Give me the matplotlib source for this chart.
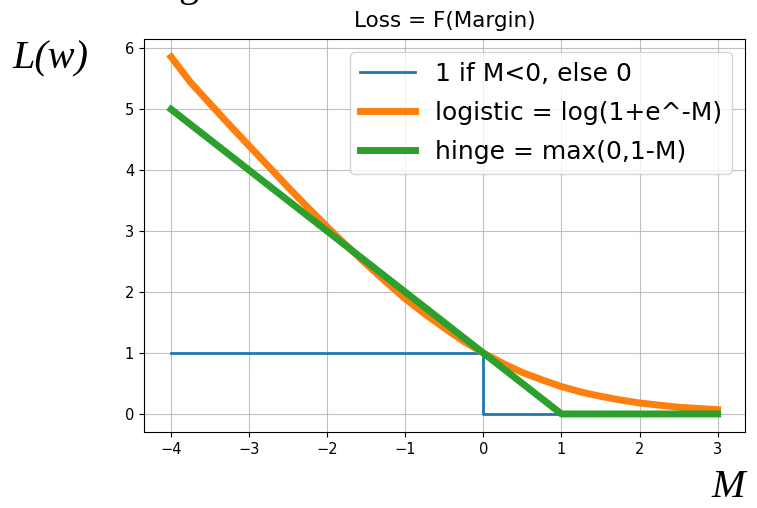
import matplotlib
matplotlib.use("Agg")
import matplotlib.pyplot as plt

# значения
M_step = [-4, 0, 0, 3]
loss_step = [1, 1, 0, 0]

M_log = [-4, -3.75, -3.5, -3.25, -3, -2.75, -2.5, -2.25, -2, -1.75, -1.5,
         -1.25, -1, -0.75, -0.5, -0.25, 0, 0.25, 0.5, 0.75, 1, 1.25, 1.5,
         1.75, 2, 2.5, 3]
loss_log = [5.86, 5.44, 5.09, 4.74, 4.40, 4.06, 3.72, 3.39, 3.07, 2.76, 2.46,
            2.17, 1.89, 1.64, 1.41, 1.19, 1.00, 0.83, 0.68, 0.56, 0.45, 0.36,
            0.29, 0.23, 0.18, 0.11, 0.07]

M_hinge = [-4, 1, 3]
loss_hinge = [5, 0, 0]

labels = ["1 if M<0, else 0", "logistic = log(1+e^-M)", "hinge = max(0,1-M)"]

fig = plt.figure(figsize=(7.57, 5.08), dpi=100)
ax = fig.add_axes([0.19, 0.15, 0.794, 0.773])

ax.plot(M_step, loss_step, color="tab:blue", lw=2, label=labels[0])
ax.plot(M_log, loss_log, color="tab:orange", lw=5, label=labels[1])
ax.plot(M_hinge, loss_hinge, color="tab:green", lw=5, label=labels[2])

ax.grid(True, color="#b0b0b0", lw=0.8, alpha=0.8)
ax.tick_params(labelsize=10.5)
ax.set_title("Loss = F(Margin)", fontsize=15.5, pad=9)
ax.legend(loc="upper right", fontsize=18, labelspacing=0.6,
          handlelength=2.2)

# подписи осей как на исходной картинке
fig.text(0.016, 0.865, "L(w)", family="Liberation Serif", style="italic",
         fontsize=29)
fig.text(0.94, 0.022, "M", family="Liberation Serif", style="italic",
         fontsize=29)
fig.text(0.235, 1.008, "g", family="Liberation Serif", fontsize=29,
         va="baseline")

plt.savefig("out.png", dpi=100)
plt.close(fig)
